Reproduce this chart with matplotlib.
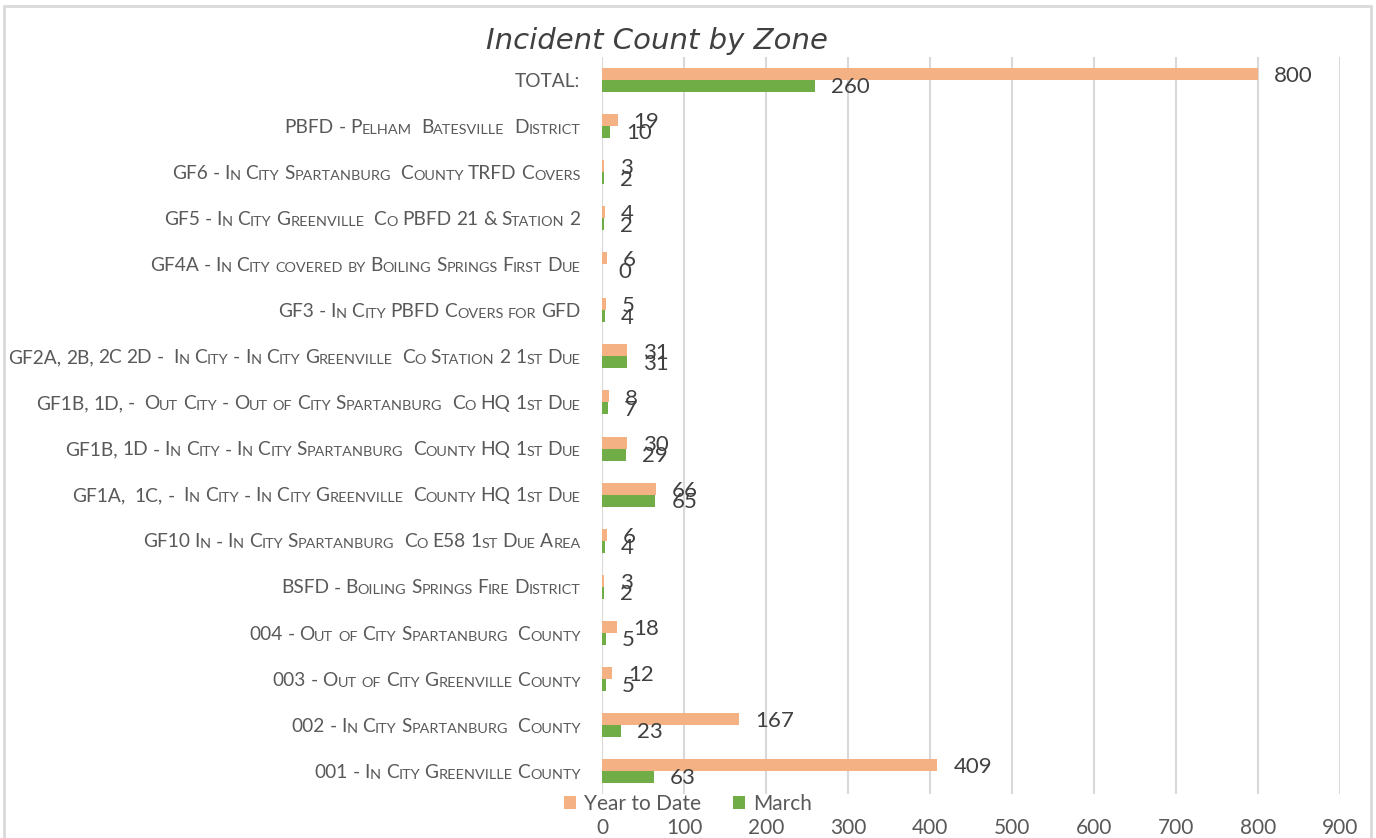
import matplotlib
matplotlib.use("Agg")
import matplotlib.pyplot as plt
from matplotlib.patches import Rectangle, Patch
import numpy as np

categories = [
    "001 - In City Greenville County",
    "002 - In City Spartanburg  County",
    "003 - Out of City Greenville County",
    "004 - Out of City Spartanburg  County",
    "BSFD - Boiling Springs Fire District",
    "GF10 In - In City Spartanburg  Co E58 1st Due Area",
    "GF1A,  1C, -  In City - In City Greenville  County HQ 1st Due",
    "GF1B, 1D - In City - In City Spartanburg  County HQ 1st Due",
    "GF1B, 1D, -  Out City - Out of City Spartanburg  Co HQ 1st Due",
    "GF2A, 2B, 2C 2D -  In City - In City Greenville  Co Station 2 1st Due",
    "GF3 - In City PBFD Covers for GFD",
    "GF4A - In City covered by Boiling Springs First Due",
    "GF5 - In City Greenville  Co PBFD 21 & Station 2",
    "GF6 - In City Spartanburg  County TRFD Covers",
    "PBFD - Pelham  Batesville  District",
    "TOTAL:",
]
year_to_date = [409, 167, 12, 18, 3, 6, 66, 30, 8, 31, 5, 6, 4, 3, 19, 800]
march = [63, 23, 5, 5, 2, 4, 65, 29, 7, 31, 4, 0, 2, 2, 10, 260]
series_names = ["Year to Date", "March"]
x_ticks = [0, 100, 200, 300, 400, 500, 600, 700, 800, 900]
title = "Incident Count by Zone"

C_YTD = "#F4B183"
C_MAR = "#70AD47"
FONT = "Lato"
GRAY = "#595959"
DARK = "#404040"

W, H = 1376, 838
fig = plt.figure(figsize=(W / 100, H / 100), dpi=100)
fig.patch.set_facecolor("white")
fig.patches.append(Rectangle((3.5 / W, -0.02), (1371 - 3.5) / W, 1.02 - 6 / H,
                             transform=fig.transFigure, fill=False,
                             edgecolor="#D9D9D9", linewidth=2, zorder=0))

ax = fig.add_axes([602 / W, 1 - 794 / H, (1340 - 602) / W, (794 - 57) / H])
ax.set_facecolor("none")

y = np.arange(len(categories))
bh = 0.26
ax.barh(y + bh / 2, year_to_date, height=bh, color=C_YTD, label=series_names[0], zorder=3)
ax.barh(y - bh / 2, march, height=bh, color=C_MAR, label=series_names[1], zorder=3)

ax.set_xlim(0, 900)
ax.set_ylim(-0.5, len(categories) - 0.5)
ax.set_xticks(x_ticks)
ax.set_xticklabels([str(t) for t in x_ticks], fontsize=15, color=GRAY, family=FONT)
ax.tick_params(axis="x", length=0, pad=17)
ax.set_yticks([])
for s in ax.spines.values():
    s.set_visible(False)
ax.grid(axis="x", color="#D9D9D9", linewidth=1.5, zorder=0)

# data labels
for i in range(len(categories)):
    ax.annotate(str(year_to_date[i]), xy=(year_to_date[i], y[i] + bh / 2),
                xytext=(11.5, -1.5), textcoords="offset points", ha="left", va="center",
                fontsize=16, color=DARK, family=FONT, zorder=4)
    ax.annotate(str(march[i]), xy=(march[i], y[i] - bh / 2),
                xytext=(11.5, -1), textcoords="offset points", ha="left", va="center",
                fontsize=16, color=DARK, family=FONT, zorder=4)


# category labels in small caps
def sc_runs(s):
    runs = []
    pending = 0
    for ch in s:
        if ch == " ":
            pending += 1
            continue
        small = ch.islower()
        c = ch.upper() if small else ch
        if runs and pending == 0 and runs[-1][1] == small:
            runs[-1][0] += c
        else:
            runs.append([c, small, pending])
        pending = 0
    return runs


BIG = 13.8
SMALL = 10.35
SPACE = 0.24 * BIG
for i, lab in enumerate(categories):
    runs = sc_runs(lab)
    prev = None
    gap_next = 0
    for text, small, spaces in reversed(runs):
        fs = SMALL if small else BIG
        if prev is None:
            t = ax.annotate(text, xy=(0, y[i]), xycoords=ax.get_yaxis_transform(),
                            xytext=(-15.5, -7.0), textcoords="offset points",
                            ha="right", va="bottom", fontsize=fs, color=GRAY, family=FONT)
        else:
            t = ax.annotate(text, xy=(0, 0), xycoords=prev,
                            xytext=(-gap_next * SPACE, 0), textcoords="offset points",
                            ha="right", va="bottom", fontsize=fs, color=GRAY, family=FONT)
        prev = t
        gap_next = spaces

fig.text(657 / W, 1 - 41 / H, title, ha="center", va="center", fontsize=21,
         color=DARK, family="DejaVu Sans", style="italic", fontweight="light")

handles = [Patch(facecolor=C_YTD), Patch(facecolor=C_MAR)]
fig.legend(handles, series_names, loc="center", bbox_to_anchor=(688 / W, 1 - 804 / H),
           ncol=2, frameon=False, handlelength=0.6, handleheight=0.6, handletextpad=0.4,
           columnspacing=1.5, prop={"family": FONT, "size": 15}, labelcolor=GRAY,
           borderpad=0, borderaxespad=0)

fig.savefig("out.png", dpi=100)
